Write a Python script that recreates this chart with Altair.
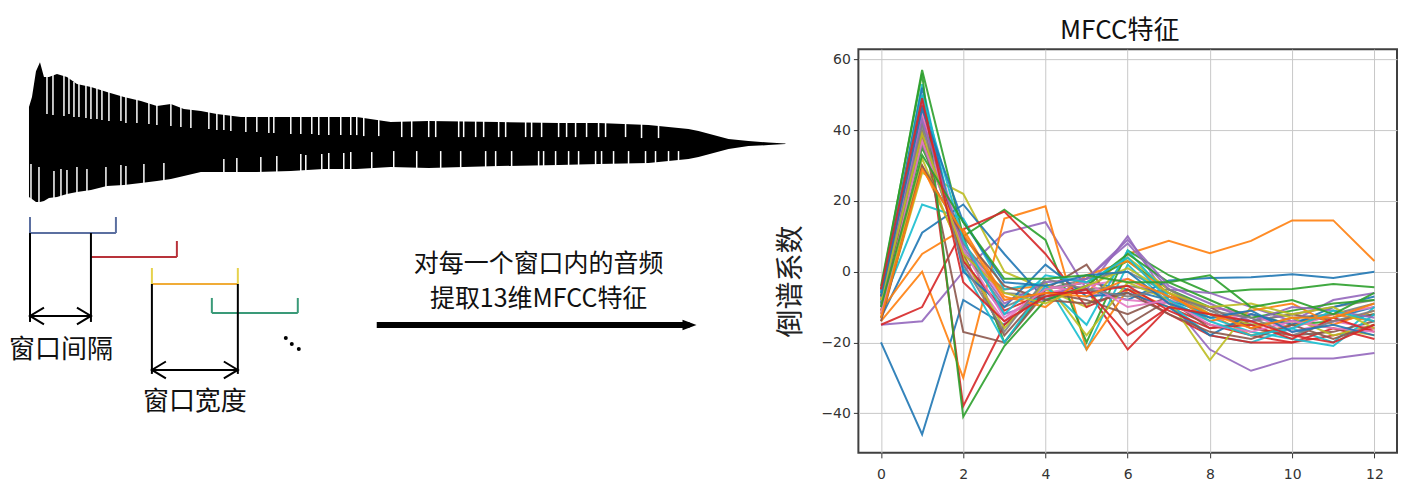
import altair as alt
import pandas as pd

# ---------------- left diagram data (reference page pixels) ----------------
wave_x = [30, 33, 37, 41, 45, 50, 58, 68, 78, 92, 108, 125, 142, 158, 172, 185, 202, 218,
          242, 258, 292, 325, 358, 392, 430, 500, 560, 600, 650, 690, 700, 715, 730, 750, 770, 787]
wave_top = [108, 98, 72, 63, 78, 78, 75, 78, 85, 88, 93, 98, 102, 107, 105, 110, 112, 115,
            118, 118, 118, 118, 118, 123, 122, 123, 124, 124, 126, 130, 132, 136, 140, 142, 143.5, 144.5]
wave_bot = [198, 200, 203, 203, 202, 199, 198, 195, 193, 191, 187, 186, 184, 182, 180, 177, 173, 173,
            173, 173, 172, 170, 170, 168, 169, 167, 166, 165, 164, 160, 158, 154, 150, 147, 146, 145]

# white gaps that give the waveform its comb texture
gap_up_x = [48, 54, 65, 70, 75, 80, 87, 92, 98, 103, 110, 122, 127, 138, 150, 158, 172, 182, 192,
            210, 218, 225, 232, 247, 258, 270, 275, 292, 302, 313, 320, 330, 342, 352, 358, 365, 380,
            403, 413, 430, 437, 460, 465, 477, 485, 500, 507, 527, 533, 543, 560, 568, 577, 588, 600,
            607, 627, 643, 660]
gap_up_end = [115, 116, 117, 115, 118, 118, 119, 120, 120, 121, 122, 122, 124, 124, 125, 126, 127,
              128, 129, 130, 131, 131, 132, 133, 133, 134, 134, 135, 135, 135, 136, 136, 136, 136,
              136, 137, 137, 138, 138, 138, 138, 138, 138, 138, 138, 138, 138, 138, 138, 138, 138,
              138, 138, 138, 138, 138, 138, 139, 139]
gap_dn_x = [32, 40, 55, 62, 68, 78, 88, 107, 122, 127, 145, 165, 225, 238, 262, 278, 302, 307, 323,
            330, 345, 352, 373, 395, 418, 442, 462, 487, 497, 513, 540, 545, 557, 570, 580, 597, 603,
            615, 630, 647, 657, 670, 680]
gap_dn_end = [165, 168, 172, 170, 171, 168, 170, 168, 166, 167, 165, 164, 160, 159, 158, 157, 155,
              156, 155, 154, 154, 153, 153, 152, 152, 152, 152, 152, 152, 152, 152, 152, 152, 152,
              152, 152, 152, 152, 152, 152, 152, 152, 152]

win_start = [31, 92, 153, 213]
win_end = [117, 178, 239, 299]
win_level = [234, 258, 285, 314]
win_tick_top = [218, 242, 269, 299]
win_left_tick = [True, False, True, True]
win_color = ["#5b6fa0", "#b8323a", "#f0ac38", "#3a9a78"]
win_tick_color = ["#5b6fa0", "#b8323a", "#e6d24c", "#3a9a78"]

hop_x = [31, 92]
hop_y_top = [234, 234]
hop_y_bottom = 323
hop_arrow_y = 317
len_x = [153, 239]
len_y_top = [285, 285]
len_y_bottom = 375
len_arrow_y = 371

labels_text = ["窗口间隔", "窗口宽度", "对每一个窗口内的音频", "提取13维MFCC特征"]
labels_x = [62, 196, 540, 540]
labels_y = [351, 403, 265, 300]
labels_size = [26, 26, 25, 25]

dots_x = [287, 293, 300]
dots_y = [339, 345, 350]

arrow_x0, arrow_x1, arrow_y = 378, 691, 326

# ---------------- MFCC coefficients (13 per frame) ----------------
coef_idx = list(range(13))
s01 = [-20, -46, -8, -15, -5, -3, -5, -8, -12, -15, -14, -13, -10]
s02 = [-12, 30, 5, -5, -4, -6, 5, 8.7, 5.2, 8.7, 14.5, 14.5, 3]
s03 = [-5, 57, 10, -20, -5, -3, 3, -5, -10, -12, -15, -14, -12]
s04 = [-8, 50, -38, -15, -6, -5, -22, -10, -15, -18, -20, -18, -16]
s05 = [-15, -14, 0, 11, 14, -5, 10, -8, -22, -28, -24.5, -24.5, -23]
s06 = [-10, 38, 5, -18, -5, 2, -15, -8, -16, -14, -12, -14, -12]
s07 = [-6, 45, 8, -8, -6, -4, -2, -8, -10, -12, -16, -12, -10]
s08 = [-7, 42, 6, -10, -5, -2, 0, -6, -12, -14, -12, -10, -8]
s09 = [-13, 28, 22, 0, -5, -10, 4, -5, -12, -15, -14, -16, -18]
s10 = [-10, 19, 15, -5, -3, -22, 2, -9, -18, -20, -16, -20, -10]
s11 = [-13, 11, 19, 5, -8, -5, -8, -2.5, -1.8, -1.6, -0.7, -1.8, 0]
s12 = [-14, 0, -30, 15, 18.5, -22, -5, -10, -12, -18, -15, -12, -14]
s13 = [-9, 35, 10, 17.5, 9, -20, 6, -1, -6, -5, -4.9, -3.5, -4.4]
s14 = [-15, -10, 12, 17, 5, -10, -5, -12, -18, -20, -20, -16, -19]
s15 = [-5, 48, 3, -12, -8, -2, 8, -5, -6, -10, -14, -8, -6]
s16 = [-11, 40, -17, -20, -6, -8, -12, -7, -10, -16, -18, -17, -14]
s17 = [-8, 44, 2, -14, -4, -6, -8, -9, -14, -12, -17, -14, -16]
s18 = [-6, 36, 8, -6, -7, -5, -4, -6, -11, -16, -13, -12, -9]
s19 = [-12, 32, 4, -16, -3, -18, -3, -8, -25, -10, -13, -18, -15]
s20 = [-9, 53, 1, -20, -4, -15, 6, -7, -13, -17, -19, -21, -12]
s21 = [-6, 52, 0, -10, 2, -7, -6, -10, -18, -12, -15, -10, -7]
s22 = [-11, 5, 12, -7, -10, -1, 3, -6, -14, -11, -9, -15, -11]
s23 = [-4, 56, -41, -21, -8, -4, 5, -3, -8, -13, -11, -9, -8]
s24 = [-7, 47, 3, -11, -6, -6, -4, -11, -16, -15, -19, -13, -17]
s25 = [-10, 43, 7, -9, -3, -2, 9, -4, -9, -14, -10, -11, -13]
s26 = [-14, 30, 10, -4, -8, -9, -6, -12, -17, -19, -15, -19, -15]
s27 = [-12, 37, 6, -13, -5, -3, -10, -8, -15, -17, -14, -16, -17]
s28 = [-9, 41, 2, -17, -2, -5, -7, -5, -11, -13, -18, -14, -11]
s29 = [-8, 39, 5, -6, -9, -4, 1, -6, -10, -9, -12, -10, -16]
s30 = [-6, 50, 9, -12, -1, -3, 4, -8, -14, -18, -16, -11, -14]
s31 = [-7, 46, 14, -3, -4, -1, 0, -9, -13, -11, -17, -15, -18]
s32 = [-13, 29, 11, -8, -6, -7, -2, -7, -12, -16, -13, -13, -9]
s33 = [-10, 33, 14, -2, -2, -1, -3, -3, -1, -10, -8, -12, -6]
s34 = [-5, 49, -3, -14, -7, -5, -18, -10, -12, -14, -18, -20, -15]
all_series = [s01, s02, s03, s04, s05, s06, s07, s08, s09, s10, s11, s12, s13, s14, s15, s16, s17,
              s18, s19, s20, s21, s22, s23, s24, s25, s26, s27, s28, s29, s30, s31, s32, s33, s34]

x_ticks = [0, 2, 4, 6, 8, 10, 12]
y_ticks = [-40, -20, 0, 20, 40, 60]
tab10 = ["#1f77b4", "#ff7f0e", "#2ca02c", "#d62728", "#9467bd",
         "#8c564b", "#e377c2", "#7f7f7f", "#bcbd22", "#17becf"]

CJK = "Noto Sans CJK SC"

# ---------------- left panel ----------------
X0, W1 = 10, 846
Y0, H1 = 50, 410
xs = alt.Scale(domain=[X0, X0 + W1], nice=False, zero=False)
ys = alt.Scale(domain=[Y0, Y0 + H1], nice=False, zero=False, reverse=True)


def enc(c):
    return c.encode(x=alt.X("x:Q", scale=xs, axis=None), y=alt.Y("y:Q", scale=ys, axis=None))


wave_df = pd.DataFrame({"x": wave_x, "top": wave_top, "bot": wave_bot})
wave = alt.Chart(wave_df).mark_area(color="black", interpolate="linear").encode(
    x=alt.X("x:Q", scale=xs, axis=None),
    y=alt.Y("top:Q", scale=ys, axis=None),
    y2="bot:Q",
)

segs = []
for i in range(4):
    segs.append(dict(x=win_start[i], x2=win_end[i], y=win_level[i], y2=win_level[i], c=win_color[i], w=2))
    segs.append(dict(x=win_end[i], x2=win_end[i], y=win_tick_top[i], y2=win_level[i], c=win_tick_color[i], w=2))
    if win_left_tick[i]:
        segs.append(dict(x=win_start[i], x2=win_start[i], y=win_tick_top[i], y2=win_level[i], c=win_tick_color[i], w=2))
for k in range(2):
    segs.append(dict(x=hop_x[k], x2=hop_x[k], y=hop_y_top[k], y2=hop_y_bottom, c="black", w=2))
    segs.append(dict(x=len_x[k], x2=len_x[k], y=len_y_top[k], y2=len_y_bottom, c="black", w=2))
segs.append(dict(x=hop_x[0], x2=hop_x[1], y=hop_arrow_y, y2=hop_arrow_y, c="black", w=2))
segs.append(dict(x=len_x[0], x2=len_x[1], y=len_arrow_y, y2=len_arrow_y, c="black", w=2))
segs.append(dict(x=arrow_x0, x2=arrow_x1, y=arrow_y, y2=arrow_y, c="black", w=6))
# white texture gaps in the waveform (from the envelope inward)
for gx, gy in zip(gap_up_x, gap_up_end):
    j = min(range(len(wave_x)), key=lambda k: abs(wave_x[k] - gx))
    segs.append(dict(x=gx, x2=gx, y=wave_top[j] - 2, y2=gy, c="white", w=1.5))
for gx, gy in zip(gap_dn_x, gap_dn_end):
    j = min(range(len(wave_x)), key=lambda k: abs(wave_x[k] - gx))
    segs.append(dict(x=gx, x2=gx, y=gy, y2=wave_bot[j] + 2, c="white", w=1.5))
seg_df = pd.DataFrame(segs)

rules = alt.Chart(seg_df).mark_rule(strokeCap="butt").encode(
    x=alt.X("x:Q", scale=xs, axis=None),
    x2="x2:Q",
    y=alt.Y("y:Q", scale=ys, axis=None),
    y2="y2:Q",
    color=alt.Color("c:N", scale=None),
    strokeWidth=alt.StrokeWidth("w:Q", scale=None),
)

heads_left = pd.DataFrame({"x": [hop_x[0], len_x[0]], "y": [hop_arrow_y, len_arrow_y]})
heads_right = pd.DataFrame({"x": [hop_x[1], len_x[1]], "y": [hop_arrow_y, len_arrow_y]})
hl = enc(alt.Chart(heads_left).mark_point(shape="M1,-0.6L0,0L1,0.6", size=784, filled=False,
                                          stroke="black", strokeWidth=2, opacity=1))
hr = enc(alt.Chart(heads_right).mark_point(shape="M-1,-0.6L0,0L-1,0.6", size=784, filled=False,
                                           stroke="black", strokeWidth=2, opacity=1))
big_head = enc(alt.Chart(pd.DataFrame({"x": [arrow_x1], "y": [arrow_y]})).mark_point(
    shape="M-1,-0.75L1,0L-1,0.75Z", size=196, filled=True, color="black", opacity=1))
dots = enc(alt.Chart(pd.DataFrame({"x": dots_x, "y": dots_y})).mark_circle(
    size=16, color="black", opacity=1))

texts = alt.Chart(pd.DataFrame({"t": labels_text, "x": labels_x, "y": labels_y, "s": labels_size})).mark_text(
    font=CJK, color="#111", align="center", baseline="middle").encode(
    x=alt.X("x:Q", scale=xs, axis=None), y=alt.Y("y:Q", scale=ys, axis=None), text="t:N",
    size=alt.Size("s:Q", scale=None))

left = alt.layer(wave, rules, hl, hr, big_head, dots, texts).properties(
    width=W1, height=H1, view=alt.ViewBackground(stroke="transparent"))

# ---------------- right panel ----------------
rows = []
for si, vals in enumerate(all_series):
    for i, v in zip(coef_idx, vals):
        rows.append({"frame": f"f{si:02d}", "idx": i, "value": v})
mf = pd.DataFrame(rows)
frames = [f"f{si:02d}" for si in range(len(all_series))]
colors = [tab10[si % 10] for si in range(len(all_series))]

right = alt.Chart(mf).mark_line(strokeWidth=2, opacity=0.9).encode(
    x=alt.X("idx:Q", scale=alt.Scale(domain=[-0.55, 12.55], nice=False, zero=False),
            axis=alt.Axis(values=x_ticks, title=None, format="d", labelFont="DejaVu Sans",
                          labelFontSize=14, labelColor="#333", tickColor="#333", tickSize=5,
                          labelPadding=10, domain=False, gridColor="#c8c8c8", gridWidth=1)),
    y=alt.Y("value:Q", scale=alt.Scale(domain=[-51.2, 62.9], nice=False, zero=False),
            axis=alt.Axis(values=y_ticks, title="倒谱系数", format="d", labelFont="DejaVu Sans",
                          labelFontSize=14, labelColor="#333", tickColor="#333", tickSize=5,
                          labelPadding=3, domain=False, gridColor="#c8c8c8", gridWidth=1,
                          titleFont=CJK, titleFontSize=28, titleFontWeight="normal",
                          titleColor="#222", titlePadding=15, titleY=232)),
    color=alt.Color("frame:N", scale=alt.Scale(domain=frames, range=colors), legend=None),
).properties(
    width=539, height=404,
    title=alt.TitleParams("MFCC特征", font=CJK, fontSize=26, fontWeight="normal",
                          color="#111", offset=5, anchor="middle", dx=-8),
    view=alt.ViewBackground(stroke="#404040", strokeWidth=2),
)

chart = alt.hconcat(left, right, spacing=4, bounds="flush").properties(
    padding={"left": 0, "top": 9, "right": 0, "bottom": 0}
).configure(background="white")

chart.save("out.html", embed_options={"renderer": "svg", "actions": False})
